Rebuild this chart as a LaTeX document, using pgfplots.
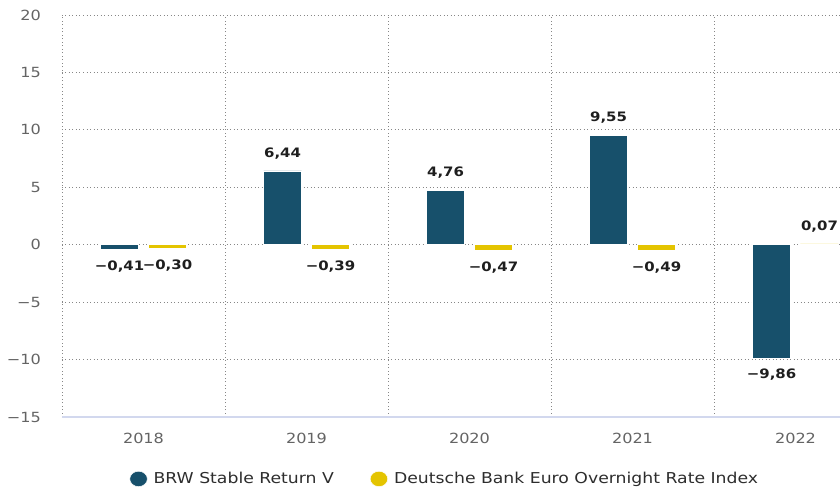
\documentclass[border=0pt]{standalone}
\usepackage{pgfplots}
\pgfplotsset{compat=1.18}
\usepackage{fontspec}
\setmainfont{DejaVu Sans}[FakeStretch=1.15]
\definecolor{brw}{RGB}{23,80,107}
\definecolor{dbk}{RGB}{228,196,0}
\definecolor{ticklab}{RGB}{100,100,100}
\definecolor{axisl}{RGB}{210,216,238}
\definecolor{gridc}{RGB}{135,135,135}
\definecolor{labc}{RGB}{30,30,30}
\definecolor{legtext}{RGB}{45,45,45}
\pgfplotsset{circleleg/.style={legend image code/.code={\fill[##1] (0pt,0pt) ellipse [x radius=8.8pt, y radius=7.7pt];}}}
\begin{document}
\begin{tikzpicture}
\useasboundingbox (-62pt,-74pt) rectangle (778pt,417pt);
\begin{axis}[
 at={(0pt,0pt)}, anchor=south west, scale only axis,
 width=778pt, height=402pt,
 xmin=-0.5, xmax=4.273, ymin=-15, ymax=20,
 ybar, bar width=0.233,
 xtick={0,1,2,3,4}, xticklabels={2018,2019,2020,2021,2022},
 ytick={-15,-10,-5,0,5,10,15,20}, yticklabels={−15,−10,−5,0,5,10,15,20},
 minor xtick={-0.5,0.5,1.5,2.5,3.5},
 ymajorgrids, xminorgrids, xmajorgrids=false,
 grid style={draw=gridc, line width=0.9pt, dash pattern=on 0.9pt off 2.6pt},
 minor grid style={draw=gridc, line width=0.9pt, dash pattern=on 0.9pt off 2.6pt},
 axis x line*=bottom, axis y line*=left,
 x axis line style={draw=axisl, line width=1.8pt, -},
 y axis line style={draw=none},
 tick style={draw=none}, minor tick length=0pt, major tick length=0pt,
 xticklabel style={inner sep=0pt, yshift=-16pt, font=\fontsize{14}{16}\selectfont, text=ticklab},
 yticklabel style={inner sep=0pt, xshift=-21pt, font=\fontsize{14}{16}\selectfont, text=ticklab},
 point meta=explicit symbolic,
 nodes near coords,
 visualization depends on={rawy \as \rawy},
 every node near coord/.append style={anchor=center, font=\bfseries\fontsize{13}{15}\selectfont, text=labc, yshift={ifthenelse(\rawy>0,17,-17)}},
 legend style={at={(0.492,-0.154)}, anchor=center, draw=none, fill=none, legend columns=2,
   font=\fontsize{15}{18}\selectfont, text=legtext,
   /tikz/every odd column/.append style={column sep=4pt},
   /tikz/every even column/.append style={column sep=34pt}},
]
\addplot[circleleg, fill=brw, draw=white, line width=0.5pt, bar shift=-0.147] coordinates {
 (0,-0.41) [−0,41]
 (1,6.44) [6,44]
 (2,4.76) [4,76]
 (3,9.55) [9,55]
 (4,-9.86) [−9,86]
};
\addlegendentry{BRW Stable Return V}
\addplot[circleleg, fill=dbk, draw=white, line width=0.5pt, bar shift=0.147] coordinates {
 (0,-0.30) [−0,30]
 (1,-0.39) [−0,39]
 (2,-0.47) [−0,47]
 (3,-0.49) [−0,49]
 (4,0.07) [0,07]
};
\addlegendentry{Deutsche Bank Euro Overnight Rate Index}
\end{axis}
\end{tikzpicture}
\end{document}
